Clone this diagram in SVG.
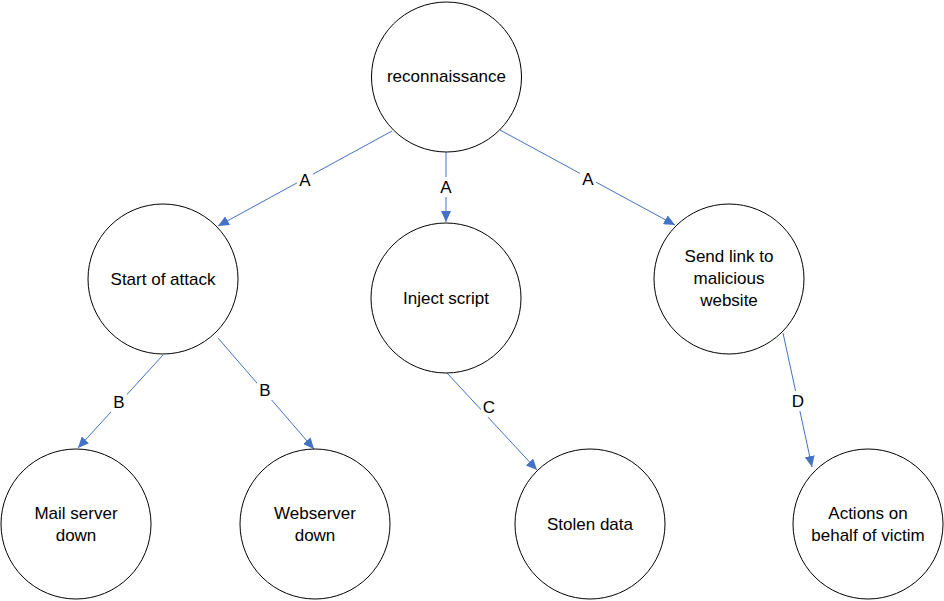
<svg xmlns="http://www.w3.org/2000/svg" width="944" height="601" viewBox="0 0 944 601">
<style>
.node circle{fill:#fff;stroke:#000;stroke-width:1}
text{font-family:"Liberation Sans",Arial,sans-serif;font-size:17px;fill:#000;text-anchor:middle;dominant-baseline:central}
.edge line{stroke:#4472C4;stroke-width:1;marker-end:url(#arr)}
.lbl rect{fill:#fff}
</style>
<defs>
<marker id="arr" markerUnits="userSpaceOnUse" markerWidth="12" markerHeight="10" refX="11" refY="5" orient="auto">
<path d="M0,0 L11,5 L0,10 Z" fill="#4472C4"/>
</marker>
</defs>
<g id="connectors">
<g class="edge"><line x1="392" y1="131" x2="218" y2="226"/></g>
<g class="edge"><line x1="446" y1="152" x2="446" y2="222"/></g>
<g class="edge"><line x1="500" y1="130" x2="675" y2="225"/></g>
<g class="edge"><line x1="163" y1="355" x2="78" y2="448"/></g>
<g class="edge"><line x1="218" y1="338" x2="314" y2="449"/></g>
<g class="edge"><line x1="447" y1="373" x2="537" y2="470"/></g>
<g class="edge"><line x1="783" y1="333" x2="812" y2="467"/></g>
<g class="lbl">
<rect x="297" y="170" width="16" height="20"/><text x="305" y="180">A</text>
<rect x="438" y="177" width="16" height="20"/><text x="446" y="187">A</text>
<rect x="580" y="169" width="16" height="20"/><text x="588" y="179">A</text>
<rect x="111" y="392" width="16" height="20"/><text x="119" y="402">B</text>
<rect x="257" y="380" width="16" height="20"/><text x="265" y="390">B</text>
<rect x="481" y="397" width="16" height="20"/><text x="489" y="407">C</text>
<rect x="790" y="391" width="16" height="20"/><text x="798" y="401">D</text>
</g>
</g>
<g id="n-recon" class="node"><circle cx="446.5" cy="77" r="75"/><text x="446.5" y="76">reconnaissance</text></g>
<g id="n-start" class="node"><circle cx="163" cy="279" r="75"/><text x="163" y="279">Start of attack</text></g>
<g id="n-inject" class="node"><circle cx="446" cy="298" r="75"/><text x="446" y="298">Inject script</text></g>
<g id="n-send" class="node"><circle cx="729" cy="279" r="75"/><text x="729" y="256">Send link to</text><text x="729" y="278">malicious</text><text x="729" y="300">website</text></g>
<g id="n-mail" class="node"><circle cx="76" cy="524" r="75"/><text x="76" y="513">Mail server</text><text x="76" y="535">down</text></g>
<g id="n-web" class="node"><circle cx="315" cy="524" r="75"/><text x="315" y="513">Webserver</text><text x="315" y="535">down</text></g>
<g id="n-stolen" class="node"><circle cx="590" cy="524" r="75"/><text x="590" y="524">Stolen data</text></g>
<g id="n-actions" class="node"><circle cx="868" cy="524" r="75"/><text x="868" y="513">Actions on</text><text x="868" y="535">behalf of victim</text></g>
</svg>
